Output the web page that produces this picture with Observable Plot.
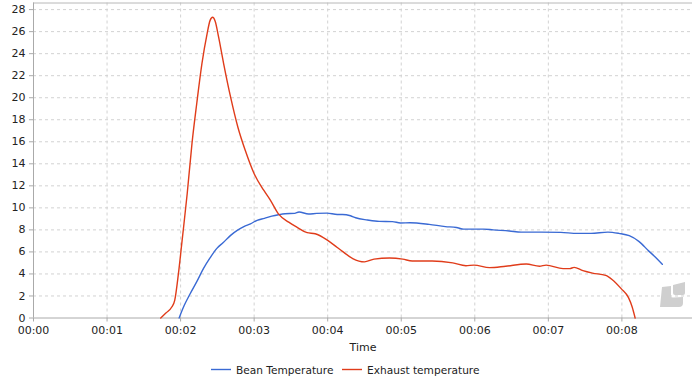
<!DOCTYPE html>
<html>
<head>
<meta charset="utf-8">
<script src="https://cdn.jsdelivr.net/npm/d3@7"></script>
<script src="https://cdn.jsdelivr.net/npm/@observablehq/plot@0.6"></script>
<style>
html,body{margin:0;padding:0;background:#fff;}
#wrap{position:relative;width:692px;height:379px;overflow:hidden;font-family:"DejaVu Sans",sans-serif;}
#legend{position:absolute;left:0;top:358px;width:692px;height:21px;font-size:10.6px;color:#222;}
#legend span{position:absolute;top:4.5px;white-space:nowrap;line-height:14px;}
#legend svg{position:absolute;top:8px;}
#logo{position:absolute;left:658px;top:281px;}
</style>
</head>
<body>
<div id="wrap"></div>
<script>
const beanTime = [1.98,2.05,2.13,2.22,2.31,2.40,2.49,2.58,2.68,2.77,2.86,2.95,3.04,3.14,3.24,3.33,3.42,3.55,3.61,3.74,3.85,3.99,4.13,4.2,4.31,4.38,4.54,4.7,4.88,4.99,5.12,5.38,5.6,5.75,5.85,6.12,6.25,6.47,6.63,6.9,7.17,7.4,7.58,7.81,7.96,8.1,8.23,8.37,8.46,8.55];
const beanValue = [0,1.15,2.2,3.3,4.48,5.45,6.3,6.85,7.5,7.95,8.3,8.55,8.87,9.05,9.25,9.38,9.47,9.5,9.62,9.44,9.5,9.52,9.4,9.4,9.28,9.1,8.9,8.77,8.75,8.63,8.65,8.5,8.3,8.22,8.07,8.07,8.0,7.9,7.8,7.8,7.77,7.68,7.68,7.8,7.68,7.47,6.96,6.05,5.5,4.87];
const exhaustTime = [1.73,1.80,1.88,1.92,1.97,2.02,2.09,2.155,2.22,2.29,2.36,2.40,2.435,2.47,2.517,2.585,2.68,2.78,2.88,3.0,3.13,3.22,3.33,3.47,3.58,3.72,3.83,3.99,4.13,4.2,4.34,4.5,4.63,4.84,5.02,5.15,5.42,5.7,5.88,5.99,6.2,6.42,6.7,6.88,6.97,7.2,7.29,7.35,7.47,7.6,7.78,7.87,7.99,8.09,8.14,8.18];
const exhaustValue = [0,0.45,1.0,1.6,4,7,11.3,15.85,19.5,23.1,25.8,27.0,27.3,26.95,25.5,23.1,20.05,17.3,15.2,13.1,11.6,10.7,9.45,8.7,8.25,7.75,7.65,7.1,6.4,6.05,5.4,5.1,5.35,5.45,5.35,5.17,5.17,5.0,4.75,4.8,4.57,4.7,4.9,4.7,4.8,4.48,4.48,4.6,4.3,4.08,3.87,3.48,2.67,1.85,1.0,0];
const xTicks = [0,1,2,3,4,5,6,7,8];
const xTickLabels = ["00:00","00:01","00:02","00:03","00:04","00:05","00:06","00:07","00:08"];
const yTicks = [0,2,4,6,8,10,12,14,16,18,20,22,24,26,28];
const seriesNames = ["Bean Temperature","Exhaust temperature"];
const seriesColors = ["#3a6ad4","#e03c1a"];

const bean = beanTime.map((t,i)=>({t,v:beanValue[i]}));
const exhaust = exhaustTime.map((t,i)=>({t,v:exhaustValue[i]}));
const xMax = 8.96, yMax = 28.6;

const chart = Plot.plot({
  width:692, height:358,
  marginLeft:33, marginRight:0, marginTop:2.5, marginBottom:40.5,
  style:{fontFamily:"'DejaVu Sans',sans-serif",fontSize:"11px",color:"#222",background:"#fff"},
  x:{domain:[0,xMax],label:null},
  y:{domain:[0,yMax],label:null},
  marks:[
    Plot.ruleX(xTicks.slice(1),{stroke:"#d2d2d2",strokeWidth:1,strokeDasharray:"3,3",strokeOpacity:1}),
    Plot.ruleY(yTicks.slice(1),{stroke:"#d2d2d2",strokeWidth:1,strokeDasharray:"3,3",strokeOpacity:1}),
    Plot.ruleY([yMax],{stroke:"#b8b8b8",strokeWidth:1}),
    Plot.ruleX([0],{stroke:"#aaa",strokeWidth:1}),
    Plot.ruleY([0],{stroke:"#aaa",strokeWidth:1}),
    Plot.axisX({ticks:xTicks,tickFormat:(d,i)=>xTickLabels[i],tickSize:4,tickPadding:4,stroke:"#aaa",fill:"#222",
      label:"Time",labelAnchor:"center",labelArrow:"none",labelOffset:33,marginBottom:40.5}),
    Plot.axisY({ticks:yTicks,tickSize:4,tickPadding:4,stroke:"#aaa",fill:"#222",label:null}),
    Plot.line(bean,{x:"t",y:"v",stroke:seriesColors[0],strokeWidth:1.4,curve:"monotone-x"}),
    Plot.line(exhaust,{x:"t",y:"v",stroke:seriesColors[1],strokeWidth:1.4,curve:"monotone-x"})
  ]
});

const wrap = document.getElementById("wrap");
wrap.appendChild(chart);

const swatch = (left,color) => `<svg style="left:${left}px" width="20" height="6"><line x1="0" x2="20" y1="3.5" y2="3.5" stroke="${color}" stroke-width="1.4"/></svg>`;
const legend = document.createElement("div");
legend.id = "legend";
legend.innerHTML =
 swatch(211,seriesColors[0])+`<span style="left:236px">${seriesNames[0]}</span>`+
 swatch(342,seriesColors[1])+`<span style="left:367px">${seriesNames[1]}</span>`;
wrap.appendChild(legend);

const logo = document.createElement("div");
logo.id = "logo";
logo.innerHTML = `<svg width="28" height="28" viewBox="0 0 28 28"><path fill="#cfcfcf" d="M4 6 L13 5 L13 15 Q13 16.5 15 16.5 L25 16 L25 22 Q25 26 21 26 L2 26 Z"/><path fill="#cfcfcf" d="M15 4 L27 1 L27 12 Q27 14 25 14 L17 14 Q15 14 15 12 Z"/></svg>`;
wrap.appendChild(logo);
</script>
</body>
</html>
